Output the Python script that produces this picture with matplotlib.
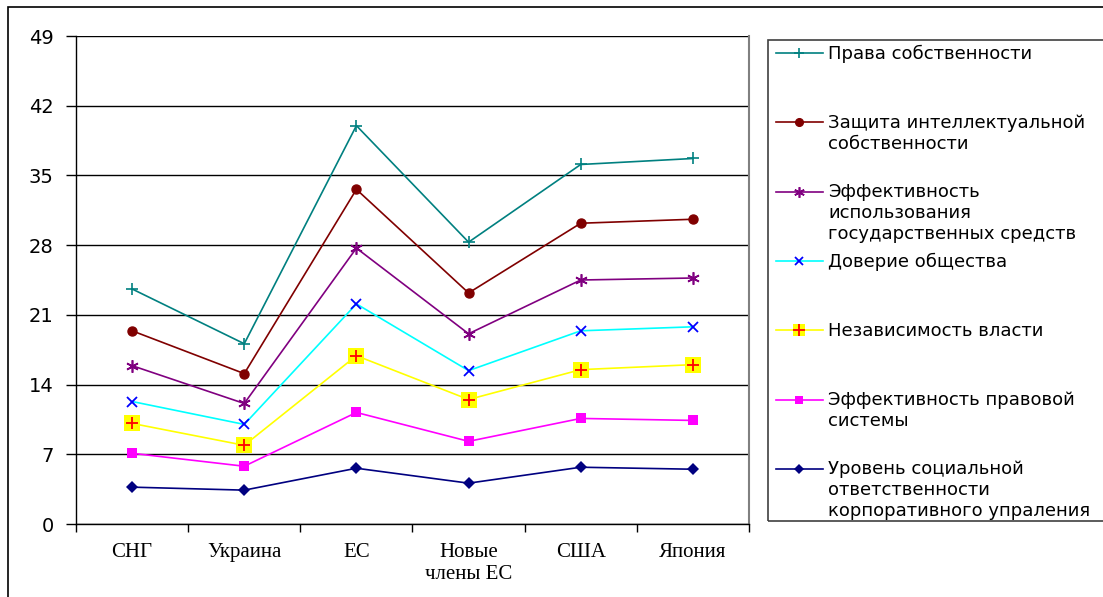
import matplotlib
matplotlib.use("Agg")
import matplotlib.pyplot as plt
import numpy as np
from matplotlib.lines import Line2D
from matplotlib.patches import Rectangle

categories = ["СНГ", "Украина", "ЕС", "Новые\nчлены ЕС", "США", "Япония"]
series_names = [
    "Права собственности",
    "Защита интеллектуальной\nсобственности",
    "Эффективность\nиспользования\nгосударственных средств",
    "Доверие общества",
    "Независимость власти",
    "Эффективность правовой\nсистемы",
    "Уровень социальной\nответственности\nкорпоративного упраления",
]
prava = [23.6, 18.1, 40.0, 28.3, 36.1, 36.7]
zashchita = [19.4, 15.1, 33.6, 23.2, 30.2, 30.6]
effekt_gos = [15.9, 12.1, 27.7, 19.1, 24.5, 24.7]
doverie = [12.3, 10.0, 22.1, 15.4, 19.4, 19.8]
nezavisimost = [10.1, 7.9, 16.9, 12.5, 15.5, 16.0]
effekt_prav = [7.1, 5.8, 11.2, 8.3, 10.6, 10.4]
uroven = [3.7, 3.4, 5.6, 4.1, 5.7, 5.5]
yticks = [0, 7, 14, 21, 28, 35, 42, 49]

values = [prava, zashchita, effekt_gos, doverie, nezavisimost, effekt_prav, uroven]

# line colour and marker look per series
styles = [
    dict(color="#008080", marker="+", mfc="#008080", mec="#008080", ms=9, mew=1.2),
    dict(color="#800000", marker="o", mfc="#800000", mec="#800000", ms=6.5, mew=1),
    dict(color="#800080", marker=(6, 2, 0), mfc="#800080", mec="#800080", ms=9, mew=1.2),
    dict(color="#00FFFF", marker="x", mfc="#0000FF", mec="#0000FF", ms=7.5, mew=1.3),
    dict(color="#FFFF00", marker="s", mfc="#FFFF00", mec="#FFFF00", ms=11, mew=0),
    dict(color="#FF00FF", marker="s", mfc="#FF00FF", mec="#FF00FF", ms=6.5, mew=0),
    dict(color="#000080", marker="D", mfc="#000080", mec="#000080", ms=6, mew=0),
]

W, H = 1103, 597
fig = plt.figure(figsize=(W / 100, H / 100), dpi=100)


def fx(px):
    return px / W


def fy(py):
    return 1 - py / H


ax = fig.add_axes([fx(76), fy(524), fx(749) - fx(76), fy(36) - fy(524)])
x = np.arange(len(categories))

for vals, st in zip(values, styles):
    ax.plot(x, vals, color=st["color"], lw=1.2, marker=st["marker"], mfc=st["mfc"],
            mec=st["mec"], ms=st["ms"], mew=st["mew"], zorder=3)
ax.plot(x, nezavisimost, ls="none", marker="+", color="#FF0000", ms=9, mew=1.3, zorder=4)

ax.set_xlim(-0.5, len(categories) - 0.5)
ax.set_ylim(0, 49)
ax.set_yticks(yticks)
ax.set_yticklabels([str(v) for v in yticks], fontsize=14, family="DejaVu Sans")
ax.tick_params(axis="y", length=7, width=1, pad=9, direction="out")
ax.set_xticks(x)
ax.set_xticklabels(categories, fontsize=15, family="Liberation Serif", linespacing=1.2)
ax.tick_params(axis="x", which="major", length=0, pad=14)
ax.set_xticks(np.arange(-0.5, len(categories)), minor=True)
ax.tick_params(axis="x", which="minor", length=6, width=1, direction="out")
ax.grid(axis="y", color="black", lw=1)
ax.set_axisbelow(True)
ax.spines["top"].set_visible(False)
ax.spines["right"].set_color("#808080")
ax.spines["right"].set_linewidth(1.5)
for s in ["left", "bottom"]:
    ax.spines[s].set_color("black")
    ax.spines[s].set_linewidth(1)

# outer chart border
fig.patches.append(Rectangle((fx(8), fy(640)), fx(1200) - fx(8), fy(7) - fy(640),
                             transform=fig.transFigure, fill=False, ec="black", lw=1.2))

# legend box
fig.patches.append(Rectangle((fx(768), fy(521)), fx(1200) - fx(768), fy(40) - fy(521),
                             transform=fig.transFigure, fill=False, ec="#404040", lw=1.2))
step = 69.3
for i, (name, st) in enumerate(zip(series_names, styles)):
    yy = 53 + i * step
    fig.lines.append(Line2D([fx(776), fx(823)], [fy(yy), fy(yy)], transform=fig.transFigure,
                            color=st["color"], lw=1.2))
    fig.lines.append(Line2D([fx(799)], [fy(yy)], transform=fig.transFigure, ls="none",
                            marker=st["marker"], mfc=st["mfc"], mec=st["mec"],
                            ms=st["ms"] * 0.85, mew=st["mew"]))
    if i == 4:
        fig.lines.append(Line2D([fx(799)], [fy(yy)], transform=fig.transFigure, ls="none",
                                marker="+", color="#FF0000", ms=8, mew=1.3))
    fig.text(fx(828), fy(yy - 8.5), name, fontsize=13, family="DejaVu Sans",
             va="top", ha="left", linespacing=1.2)

fig.savefig("out.png", dpi=100)
